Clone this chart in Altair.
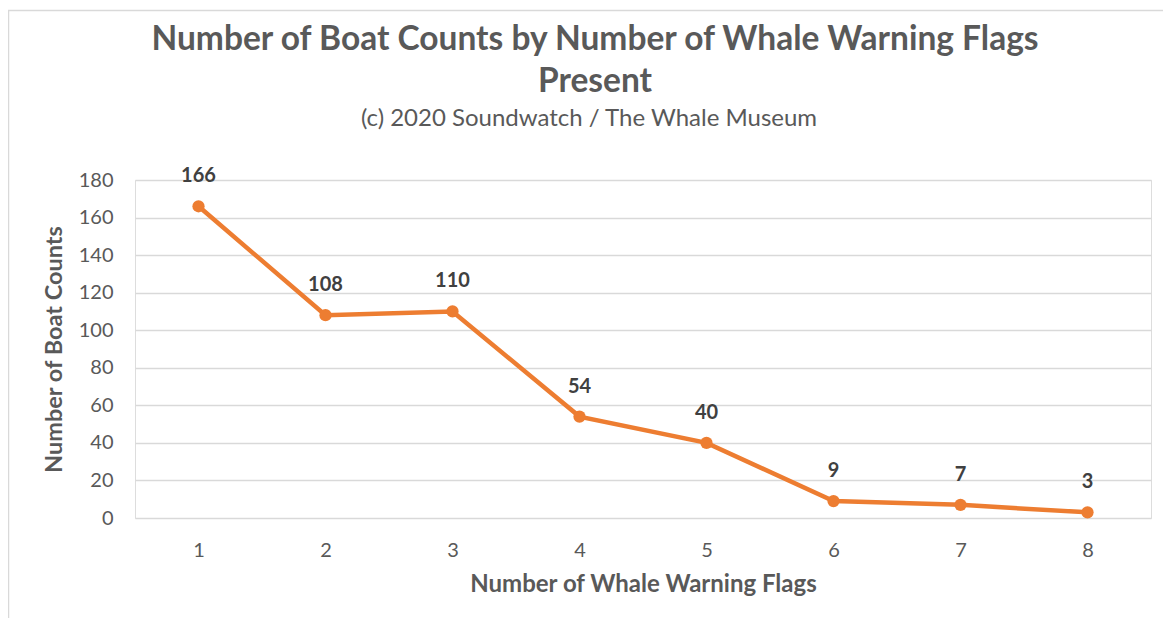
import altair as alt
import pandas as pd

flags = ["1", "2", "3", "4", "5", "6", "7", "8"]
counts = [166, 108, 110, 54, 40, 9, 7, 3]

title_lines = ["Number of Boat Counts by Number of Whale Warning Flags", "Present"]
subtitle_text = "(c) 2020 Soundwatch / The Whale Museum"

df = pd.DataFrame({"flags": flags, "count": counts})

FONT = "Lato"
GREY = "#595959"
ORANGE = "#ED7D31"

x_enc = alt.X("flags:O", sort=flags, title="Number of Whale Warning Flags",
              scale=alt.Scale(type="point", padding=0.5),
              axis=alt.Axis(labelAngle=0, labelFontSize=20, labelColor=GREY, labelFont=FONT,
                            labelPadding=22, domain=False, ticks=False, grid=False,
                            titleFont=FONT, titleFontSize=24, titleFontWeight="bold",
                            titleColor=GREY, titlePadding=12))
y_enc = alt.Y("count:Q", title="Number of Boat Counts",
              scale=alt.Scale(domain=[0, 180], nice=False),
              axis=alt.Axis(values=list(range(0, 181, 20)), labelFontSize=20, labelColor=GREY,
                            labelFont=FONT, labelPadding=22, domain=False, ticks=False,
                            gridColor="#d9d9d9", gridWidth=1.5,
                            titleFont=FONT, titleFontSize=23.5, titleFontWeight="bold",
                            titleColor=GREY, titlePadding=12))

base = alt.Chart(df)
one = pd.DataFrame({"a": [0]})

frame = alt.Chart(one).mark_rect(
    fill=None, stroke="#d9d9d9", strokeWidth=1.5, clip=False
).encode(x=alt.value(-126.5), x2=alt.value(1100), y=alt.value(-169.5), y2=alt.value(560))

t1 = alt.Chart(one).mark_text(text=title_lines[0], font=FONT, fontSize=33.5, fontWeight="bold",
                              color=GREY, align="center", baseline="middle").encode(
    x=alt.value(460), y=alt.value(-140))
t2 = alt.Chart(one).mark_text(text=title_lines[1], font=FONT, fontSize=33.5, fontWeight="bold",
                              color=GREY, align="center", baseline="middle").encode(
    x=alt.value(460), y=alt.value(-98))
t3 = alt.Chart(one).mark_text(text=subtitle_text, font=FONT, fontSize=24,
                              color=GREY, align="center", baseline="middle").encode(
    x=alt.value(454), y=alt.value(-61))

line = base.mark_line(color=ORANGE, strokeWidth=4.5).encode(x=x_enc, y=y_enc)
points = base.mark_point(filled=True, color=ORANGE, size=150, opacity=1).encode(x=x_enc, y=y_enc)
labels = base.mark_text(font=FONT, fontSize=20, fontWeight="bold", color="#404040",
                        dy=-30, baseline="middle").encode(
    x=x_enc, y=y_enc, text="count:Q")

chart = alt.layer(frame, t1, t2, t3, line, points, labels).properties(
    width=1016, height=338,
    autosize=alt.AutoSizeParams(type="none"),
    padding={"left": 127, "top": 172, "right": 12, "bottom": 100},
).configure_view(stroke="transparent", strokeWidth=0).configure(background="white")

chart.save("out.html", embed_options={"renderer": "svg", "actions": False})
